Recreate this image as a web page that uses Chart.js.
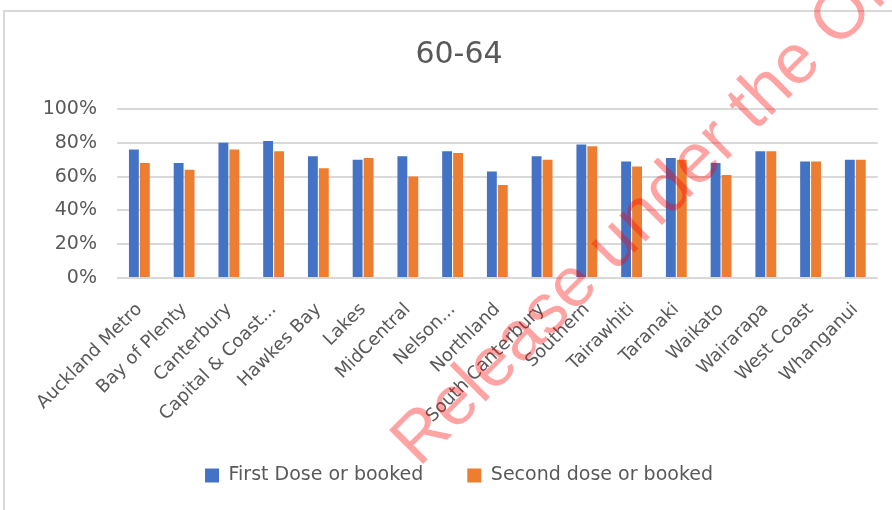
<!DOCTYPE html>
<html>
<head>
<meta charset="utf-8">
<script src="https://cdn.jsdelivr.net/npm/chart.js@4"></script>
<style>
  html, body { margin: 0; padding: 0; background: #fff; }
  #wrap { position: relative; width: 892px; height: 510px; overflow: hidden; }
  #frame { position: absolute; left: 3px; top: 10px; width: 1000px; height: 1000px;
           border-left: 2px solid #d9d9d9; border-top: 2px solid #d9d9d9; }
  canvas { position: absolute; left: 0; top: 0; }
</style>
</head>
<body>
<div id="wrap">
  <div id="frame"></div>
  <canvas id="chart" width="892" height="510"></canvas>
</div>
<script>
const TITLE = '60-64';
const WATERMARK = 'Release under the Official Information Act';

// 16 DHB categories
const categories = [
  'Auckland Metro', 'Bay of Plenty', 'Canterbury', 'Capital & Coast...', 'Hawkes Bay',
  'Lakes', 'MidCentral', 'Nelson...', 'Northland', 'South Canterbury', 'Southern',
  'Tairawhiti', 'Taranaki', 'Waikato', 'Wairarapa', 'West Coast', 'Whanganui'
];

const firstDose  = [76, 68, 80, 81, 72, 70, 72, 75, 63, 72, 79, 69, 71, 68, 75, 69, 70];
const secondDose = [68, 64, 76, 75, 65, 71, 60, 74, 55, 70, 78, 66, 70, 61, 75, 69, 70];

const yMin = 0;
const yMax = 100;
const yStep = 20;

const TEXT = '#595959';
const FONT = '"DejaVu Sans", sans-serif';

// red "released under OIA" stamp drawn over the chart
const watermark = {
  id: 'watermark',
  afterDraw(chart) {
    const ctx = chart.ctx;
    ctx.save();
    ctx.translate(419, 468);
    ctx.rotate(-45 * Math.PI / 180);
    ctx.font = '70px "Liberation Sans", Arial, sans-serif';
    ctx.fillStyle = 'rgba(255, 0, 0, 0.36)';
    ctx.textBaseline = 'alphabetic';
    ctx.fillText(WATERMARK, 0, 0);
    ctx.restore();
  }
};

new Chart(document.getElementById('chart'), {
  type: 'bar',
  data: {
    labels: categories,
    datasets: [
      {
        label: 'First Dose or booked',
        data: firstDose,
        backgroundColor: '#4472C4',
        categoryPercentage: 0.49,
        barPercentage: 0.9
      },
      {
        label: 'Second dose or booked',
        data: secondDose,
        backgroundColor: '#ED7D31',
        categoryPercentage: 0.49,
        barPercentage: 0.9
      }
    ]
  },
  options: {
    responsive: false,
    animation: false,
    layout: { padding: { left: 40, right: 14, top: 0, bottom: 15 } },
    plugins: {
      title: {
        display: true,
        text: TITLE,
        color: TEXT,
        font: { family: FONT, size: 30, weight: 'normal' },
        padding: { top: 37, bottom: 36 }
      },
      legend: {
        position: 'bottom',
        labels: {
          color: TEXT,
          font: { family: FONT, size: 19 },
          boxWidth: 14,
          boxHeight: 14,
          padding: 44
        }
      },
      tooltip: { enabled: false }
    },
    scales: {
      x: {
        grid: { display: false, drawTicks: false },
        border: { display: false },
        ticks: {
          color: TEXT,
          font: { family: FONT, size: 18 },
          minRotation: 45,
          maxRotation: 45,
          autoSkip: false,
          padding: 21
        },
        afterFit(scale) { scale.height = 144; }
      },
      y: {
        min: yMin,
        max: yMax,
        grid: { color: '#d9d9d9', lineWidth: 2, drawTicks: false },
        border: { display: false },
        ticks: {
          stepSize: yStep,
          color: TEXT,
          font: { family: FONT, size: 19 },
          padding: 20,
          callback: (v) => v + '%'
        },
        afterFit(scale) { scale.width = 77; }
      }
    }
  },
  plugins: [watermark]
});
</script>
</body>
</html>
